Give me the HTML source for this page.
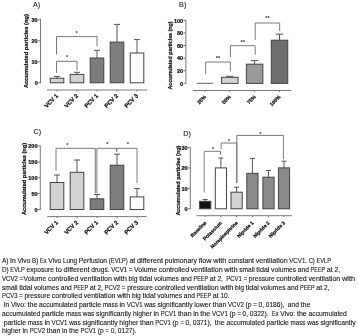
<!DOCTYPE html>
<html><head><meta charset="utf-8"><style>
html,body{margin:0;padding:0;background:#fff;}
svg{display:block;font-family:"Liberation Sans",sans-serif;filter:blur(0.35px);}
</style></head><body>
<svg width="358" height="336" viewBox="0 0 358 336">
<rect width="358" height="336" fill="#fff"/>
<text x="33.0" y="7.1" font-size="7.2" text-anchor="start" font-weight="normal" fill="#222" stroke="#222" stroke-width="0.1">A)</text>
<line x1="40.5" y1="18.7" x2="40.5" y2="83.3" stroke="#7a7a7a" stroke-width="1"/>
<line x1="38.0" y1="82.8" x2="40.5" y2="82.8" stroke="#7a7a7a" stroke-width="1"/>
<text x="37.7" y="85.0" font-size="5.5" text-anchor="end" font-weight="bold" fill="#111" stroke="#111" stroke-width="0.22">0</text>
<line x1="38.0" y1="61.8" x2="40.5" y2="61.8" stroke="#7a7a7a" stroke-width="1"/>
<text x="37.7" y="64.0" font-size="5.5" text-anchor="end" font-weight="bold" fill="#111" stroke="#111" stroke-width="0.22">10</text>
<line x1="38.0" y1="40.8" x2="40.5" y2="40.8" stroke="#7a7a7a" stroke-width="1"/>
<text x="37.7" y="43.0" font-size="5.5" text-anchor="end" font-weight="bold" fill="#111" stroke="#111" stroke-width="0.22">20</text>
<line x1="38.0" y1="19.799999999999997" x2="40.5" y2="19.799999999999997" stroke="#7a7a7a" stroke-width="1"/>
<text x="37.7" y="21.999999999999996" font-size="5.5" text-anchor="end" font-weight="bold" fill="#111" stroke="#111" stroke-width="0.22">30</text>
<text x="27.7" y="51" font-size="6" text-anchor="middle" font-weight="bold" fill="#111" transform="rotate(-90 27.7 51)" textLength="74" lengthAdjust="spacingAndGlyphs" stroke="#111" stroke-width="0.22">Accumulated particles (ng)</text>
<line x1="47" y1="90" x2="147.2" y2="90" stroke="#7a7a7a" stroke-width="1"/>
<line x1="57" y1="90" x2="57" y2="91.5" stroke="#7a7a7a" stroke-width="1"/>
<text x="58.5" y="96.3" font-size="5.8" text-anchor="end" font-weight="bold" fill="#111" transform="rotate(-45 58.5 96.3)" stroke="#111" stroke-width="0.22">VCV 1</text>
<line x1="77" y1="90" x2="77" y2="91.5" stroke="#7a7a7a" stroke-width="1"/>
<text x="78.5" y="96.3" font-size="5.8" text-anchor="end" font-weight="bold" fill="#111" transform="rotate(-45 78.5 96.3)" stroke="#111" stroke-width="0.22">VCV 2</text>
<line x1="97" y1="90" x2="97" y2="91.5" stroke="#7a7a7a" stroke-width="1"/>
<text x="98.5" y="96.3" font-size="5.8" text-anchor="end" font-weight="bold" fill="#111" transform="rotate(-45 98.5 96.3)" stroke="#111" stroke-width="0.22">PCV 1</text>
<line x1="117" y1="90" x2="117" y2="91.5" stroke="#7a7a7a" stroke-width="1"/>
<text x="118.5" y="96.3" font-size="5.8" text-anchor="end" font-weight="bold" fill="#111" transform="rotate(-45 118.5 96.3)" stroke="#111" stroke-width="0.22">PCV 2</text>
<line x1="137" y1="90" x2="137" y2="91.5" stroke="#7a7a7a" stroke-width="1"/>
<text x="138.5" y="96.3" font-size="5.8" text-anchor="end" font-weight="bold" fill="#111" transform="rotate(-45 138.5 96.3)" stroke="#111" stroke-width="0.22">PCV 3</text>
<line x1="57.0" y1="76.4" x2="57.0" y2="78.2" stroke="#555" stroke-width="1"/>
<line x1="54.0" y1="76.4" x2="60.0" y2="76.4" stroke="#555" stroke-width="1"/>
<rect x="50.2" y="78.2" width="13.599999999999994" height="4.599999999999994" fill="#d2d2d2" stroke="#444" stroke-width="1"/>
<line x1="77.0" y1="72.3" x2="77.0" y2="74.4" stroke="#555" stroke-width="1"/>
<line x1="74.0" y1="72.3" x2="80.0" y2="72.3" stroke="#555" stroke-width="1"/>
<rect x="70.2" y="74.4" width="13.599999999999994" height="8.399999999999991" fill="#d2d2d2" stroke="#444" stroke-width="1"/>
<line x1="97.0" y1="50.3" x2="97.0" y2="58" stroke="#555" stroke-width="1"/>
<line x1="94.0" y1="50.3" x2="100.0" y2="50.3" stroke="#555" stroke-width="1"/>
<rect x="90.2" y="58" width="13.599999999999994" height="24.799999999999997" fill="#7d7d7d" stroke="#444" stroke-width="1"/>
<line x1="117.0" y1="24.4" x2="117.0" y2="42.1" stroke="#555" stroke-width="1"/>
<line x1="114.0" y1="24.4" x2="120.0" y2="24.4" stroke="#555" stroke-width="1"/>
<rect x="110.2" y="42.1" width="13.599999999999994" height="40.699999999999996" fill="#7d7d7d" stroke="#444" stroke-width="1"/>
<line x1="137.0" y1="39.6" x2="137.0" y2="53" stroke="#555" stroke-width="1"/>
<line x1="134.0" y1="39.6" x2="140.0" y2="39.6" stroke="#555" stroke-width="1"/>
<rect x="130.2" y="53" width="13.600000000000023" height="29.799999999999997" fill="#fff" stroke="#444" stroke-width="1"/>
<polyline points="56.5,54.5 56.5,36.6 97,36.6 97,46.4" fill="none" stroke="#7a7a7a" stroke-width="1"/>
<text x="76.75" y="35.0" font-size="5.8" text-anchor="middle" font-weight="bold" fill="#333" stroke="none">*</text>
<polyline points="56.5,72.9 56.5,61.3 77,61.3 77,70.5" fill="none" stroke="#7a7a7a" stroke-width="1"/>
<text x="67.1" y="59.199999999999996" font-size="5.8" text-anchor="middle" font-weight="bold" fill="#333" stroke="none">*</text>
<text x="179.1" y="6.9" font-size="7.2" text-anchor="start" font-weight="normal" fill="#222" stroke="#222" stroke-width="0.1">B)</text>
<line x1="185.9" y1="19.8" x2="185.9" y2="83.9" stroke="#7a7a7a" stroke-width="1"/>
<line x1="183.4" y1="83.4" x2="185.9" y2="83.4" stroke="#7a7a7a" stroke-width="1"/>
<text x="183.1" y="85.60000000000001" font-size="5.5" text-anchor="end" font-weight="bold" fill="#111" stroke="#111" stroke-width="0.22">0</text>
<line x1="183.4" y1="70.78" x2="185.9" y2="70.78" stroke="#7a7a7a" stroke-width="1"/>
<text x="183.1" y="72.98" font-size="5.5" text-anchor="end" font-weight="bold" fill="#111" stroke="#111" stroke-width="0.22">20</text>
<line x1="183.4" y1="58.16" x2="185.9" y2="58.16" stroke="#7a7a7a" stroke-width="1"/>
<text x="183.1" y="60.36" font-size="5.5" text-anchor="end" font-weight="bold" fill="#111" stroke="#111" stroke-width="0.22">40</text>
<line x1="183.4" y1="45.54" x2="185.9" y2="45.54" stroke="#7a7a7a" stroke-width="1"/>
<text x="183.1" y="47.74" font-size="5.5" text-anchor="end" font-weight="bold" fill="#111" stroke="#111" stroke-width="0.22">60</text>
<line x1="183.4" y1="32.919999999999995" x2="185.9" y2="32.919999999999995" stroke="#7a7a7a" stroke-width="1"/>
<text x="183.1" y="35.12" font-size="5.5" text-anchor="end" font-weight="bold" fill="#111" stroke="#111" stroke-width="0.22">80</text>
<line x1="183.4" y1="20.299999999999997" x2="185.9" y2="20.299999999999997" stroke="#7a7a7a" stroke-width="1"/>
<text x="183.1" y="22.499999999999996" font-size="5.5" text-anchor="end" font-weight="bold" fill="#111" stroke="#111" stroke-width="0.22">100</text>
<text x="171.5" y="55.5" font-size="6" text-anchor="middle" font-weight="bold" fill="#111" transform="rotate(-90 171.5 55.5)" textLength="68" lengthAdjust="spacingAndGlyphs" stroke="#111" stroke-width="0.22">Accumulated particles (ng)</text>
<line x1="192.7" y1="90.5" x2="291.4" y2="90.5" stroke="#7a7a7a" stroke-width="1"/>
<line x1="205" y1="90.5" x2="205" y2="92.0" stroke="#7a7a7a" stroke-width="1"/>
<text x="206.5" y="97.3" font-size="5.1" text-anchor="end" font-weight="bold" fill="#111" transform="rotate(-45 206.5 97.3)" stroke="#111" stroke-width="0.22">25%</text>
<line x1="229.8" y1="90.5" x2="229.8" y2="92.0" stroke="#7a7a7a" stroke-width="1"/>
<text x="231.3" y="97.3" font-size="5.1" text-anchor="end" font-weight="bold" fill="#111" transform="rotate(-45 231.3 97.3)" stroke="#111" stroke-width="0.22">50%</text>
<line x1="254.6" y1="90.5" x2="254.6" y2="92.0" stroke="#7a7a7a" stroke-width="1"/>
<text x="256.1" y="97.3" font-size="5.1" text-anchor="end" font-weight="bold" fill="#111" transform="rotate(-45 256.1 97.3)" stroke="#111" stroke-width="0.22">75%</text>
<line x1="279.5" y1="90.5" x2="279.5" y2="92.0" stroke="#7a7a7a" stroke-width="1"/>
<text x="281.0" y="97.3" font-size="5.1" text-anchor="end" font-weight="bold" fill="#111" transform="rotate(-45 281.0 97.3)" stroke="#111" stroke-width="0.22">100%</text>
<line x1="196.75" y1="83.3" x2="213.25" y2="83.3" stroke="#555" stroke-width="0.9"/>
<line x1="229.8" y1="76.3" x2="229.8" y2="77.3" stroke="#555" stroke-width="1"/>
<line x1="226.05" y1="76.3" x2="233.55" y2="76.3" stroke="#555" stroke-width="1"/>
<rect x="221.55" y="77.3" width="16.5" height="6.1000000000000085" fill="#d2d2d2" stroke="#444" stroke-width="1"/>
<line x1="254.60000000000002" y1="60.6" x2="254.60000000000002" y2="64.2" stroke="#555" stroke-width="1"/>
<line x1="250.85000000000002" y1="60.6" x2="258.35" y2="60.6" stroke="#555" stroke-width="1"/>
<rect x="246.35" y="64.2" width="16.50000000000003" height="19.200000000000003" fill="#9a9a9a" stroke="#444" stroke-width="1"/>
<line x1="279.5" y1="34.2" x2="279.5" y2="40.2" stroke="#555" stroke-width="1"/>
<line x1="275.75" y1="34.2" x2="283.25" y2="34.2" stroke="#555" stroke-width="1"/>
<rect x="271.25" y="40.2" width="16.5" height="43.2" fill="#6e6e6e" stroke="#444" stroke-width="1"/>
<polyline points="205.7,74 205.7,62 230.4,62 230.4,71.5" fill="none" stroke="#7a7a7a" stroke-width="1"/>
<text x="218.05" y="60.4" font-size="5.8" text-anchor="middle" font-weight="bold" fill="#333" stroke="none">**</text>
<polyline points="230.4,57.2 230.4,45.7 255.2,45.7 255.2,54.6" fill="none" stroke="#7a7a7a" stroke-width="1"/>
<text x="242.8" y="44.1" font-size="5.8" text-anchor="middle" font-weight="bold" fill="#333" stroke="none">**</text>
<polyline points="255.2,39.8 255.2,23 279.7,23 279.7,31.1" fill="none" stroke="#7a7a7a" stroke-width="1"/>
<text x="267.6" y="20.2" font-size="5.8" text-anchor="middle" font-weight="bold" fill="#333" stroke="none">**</text>
<text x="33.6" y="134.3" font-size="7.2" text-anchor="start" font-weight="normal" fill="#222" stroke="#222" stroke-width="0.1">C)</text>
<line x1="40.3" y1="145.5" x2="40.3" y2="210.0" stroke="#7a7a7a" stroke-width="1"/>
<line x1="37.8" y1="209.5" x2="40.3" y2="209.5" stroke="#7a7a7a" stroke-width="1"/>
<text x="37.5" y="211.7" font-size="5.5" text-anchor="end" font-weight="bold" fill="#111" stroke="#111" stroke-width="0.22">0</text>
<line x1="37.8" y1="193.625" x2="40.3" y2="193.625" stroke="#7a7a7a" stroke-width="1"/>
<text x="37.5" y="195.825" font-size="5.5" text-anchor="end" font-weight="bold" fill="#111" stroke="#111" stroke-width="0.22">50</text>
<line x1="37.8" y1="177.75" x2="40.3" y2="177.75" stroke="#7a7a7a" stroke-width="1"/>
<text x="37.5" y="179.95" font-size="5.5" text-anchor="end" font-weight="bold" fill="#111" stroke="#111" stroke-width="0.22">100</text>
<line x1="37.8" y1="161.875" x2="40.3" y2="161.875" stroke="#7a7a7a" stroke-width="1"/>
<text x="37.5" y="164.075" font-size="5.5" text-anchor="end" font-weight="bold" fill="#111" stroke="#111" stroke-width="0.22">150</text>
<line x1="37.8" y1="146.0" x2="40.3" y2="146.0" stroke="#7a7a7a" stroke-width="1"/>
<text x="37.5" y="148.2" font-size="5.5" text-anchor="end" font-weight="bold" fill="#111" stroke="#111" stroke-width="0.22">200</text>
<text x="25.8" y="179" font-size="6" text-anchor="middle" font-weight="bold" fill="#111" transform="rotate(-90 25.8 179)" textLength="72" lengthAdjust="spacingAndGlyphs" stroke="#111" stroke-width="0.22">Accumulated particles (ng)</text>
<line x1="47.2" y1="216.6" x2="146.6" y2="216.6" stroke="#7a7a7a" stroke-width="1"/>
<line x1="57" y1="216.6" x2="57" y2="218.1" stroke="#7a7a7a" stroke-width="1"/>
<text x="58.5" y="222.9" font-size="5.8" text-anchor="end" font-weight="bold" fill="#111" transform="rotate(-45 58.5 222.9)" stroke="#111" stroke-width="0.22">VCV 1</text>
<line x1="77" y1="216.6" x2="77" y2="218.1" stroke="#7a7a7a" stroke-width="1"/>
<text x="78.5" y="222.9" font-size="5.8" text-anchor="end" font-weight="bold" fill="#111" transform="rotate(-45 78.5 222.9)" stroke="#111" stroke-width="0.22">VCV 2</text>
<line x1="97" y1="216.6" x2="97" y2="218.1" stroke="#7a7a7a" stroke-width="1"/>
<text x="98.5" y="222.9" font-size="5.8" text-anchor="end" font-weight="bold" fill="#111" transform="rotate(-45 98.5 222.9)" stroke="#111" stroke-width="0.22">PCV 1</text>
<line x1="117" y1="216.6" x2="117" y2="218.1" stroke="#7a7a7a" stroke-width="1"/>
<text x="118.5" y="222.9" font-size="5.8" text-anchor="end" font-weight="bold" fill="#111" transform="rotate(-45 118.5 222.9)" stroke="#111" stroke-width="0.22">PCV 2</text>
<line x1="137" y1="216.6" x2="137" y2="218.1" stroke="#7a7a7a" stroke-width="1"/>
<text x="138.5" y="222.9" font-size="5.8" text-anchor="end" font-weight="bold" fill="#111" transform="rotate(-45 138.5 222.9)" stroke="#111" stroke-width="0.22">PCV 3</text>
<line x1="57.0" y1="175" x2="57.0" y2="182.5" stroke="#555" stroke-width="1"/>
<line x1="54.0" y1="175" x2="60.0" y2="175" stroke="#555" stroke-width="1"/>
<rect x="50.2" y="182.5" width="13.599999999999994" height="27.0" fill="#d2d2d2" stroke="#444" stroke-width="1"/>
<line x1="77.0" y1="160" x2="77.0" y2="172.3" stroke="#555" stroke-width="1"/>
<line x1="74.0" y1="160" x2="80.0" y2="160" stroke="#555" stroke-width="1"/>
<rect x="70.2" y="172.3" width="13.599999999999994" height="37.19999999999999" fill="#d2d2d2" stroke="#444" stroke-width="1"/>
<line x1="97.0" y1="194.5" x2="97.0" y2="198.8" stroke="#555" stroke-width="1"/>
<line x1="94.0" y1="194.5" x2="100.0" y2="194.5" stroke="#555" stroke-width="1"/>
<rect x="90.2" y="198.8" width="13.599999999999994" height="10.699999999999989" fill="#7d7d7d" stroke="#444" stroke-width="1"/>
<line x1="117.0" y1="154.1" x2="117.0" y2="165.2" stroke="#555" stroke-width="1"/>
<line x1="114.0" y1="154.1" x2="120.0" y2="154.1" stroke="#555" stroke-width="1"/>
<rect x="110.2" y="165.2" width="13.599999999999994" height="44.30000000000001" fill="#7d7d7d" stroke="#444" stroke-width="1"/>
<line x1="137.0" y1="188.6" x2="137.0" y2="196.9" stroke="#555" stroke-width="1"/>
<line x1="134.0" y1="188.6" x2="140.0" y2="188.6" stroke="#555" stroke-width="1"/>
<rect x="130.2" y="196.9" width="13.600000000000023" height="12.599999999999994" fill="#fff" stroke="#444" stroke-width="1"/>
<polyline points="56,170.6 56,148.3 95.3,148.3 95.3,193.3" fill="none" stroke="#7a7a7a" stroke-width="1"/>
<text x="67.5" y="147.4" font-size="5.8" text-anchor="middle" font-weight="bold" fill="#333" stroke="none">*</text>
<polyline points="96.9,193.3 96.9,148.3 116.7,148.3 116.7,151.7" fill="none" stroke="#7a7a7a" stroke-width="1"/>
<text x="107.5" y="146.4" font-size="5.8" text-anchor="middle" font-weight="bold" fill="#333" stroke="none">*</text>
<polyline points="116.7,151.7 116.7,148.3 137.0,148.3 137.0,183" fill="none" stroke="#7a7a7a" stroke-width="1"/>
<text x="128" y="146.4" font-size="5.8" text-anchor="middle" font-weight="bold" fill="#333" stroke="none">*</text>
<text x="183.2" y="136.3" font-size="7.2" text-anchor="start" font-weight="normal" fill="#222" stroke="#222" stroke-width="0.1">D)</text>
<line x1="190.3" y1="147.3" x2="190.3" y2="209.3" stroke="#7a7a7a" stroke-width="1"/>
<line x1="187.8" y1="208.8" x2="190.3" y2="208.8" stroke="#7a7a7a" stroke-width="1"/>
<text x="187.5" y="211.0" font-size="5.5" text-anchor="end" font-weight="bold" fill="#111" stroke="#111" stroke-width="0.22">0</text>
<line x1="187.8" y1="188.33333333333334" x2="190.3" y2="188.33333333333334" stroke="#7a7a7a" stroke-width="1"/>
<text x="187.5" y="190.53333333333333" font-size="5.5" text-anchor="end" font-weight="bold" fill="#111" stroke="#111" stroke-width="0.22">10</text>
<line x1="187.8" y1="167.86666666666667" x2="190.3" y2="167.86666666666667" stroke="#7a7a7a" stroke-width="1"/>
<text x="187.5" y="170.06666666666666" font-size="5.5" text-anchor="end" font-weight="bold" fill="#111" stroke="#111" stroke-width="0.22">20</text>
<line x1="187.8" y1="147.40000000000003" x2="190.3" y2="147.40000000000003" stroke="#7a7a7a" stroke-width="1"/>
<text x="187.5" y="149.60000000000002" font-size="5.5" text-anchor="end" font-weight="bold" fill="#111" stroke="#111" stroke-width="0.22">30</text>
<text x="180" y="180.6" font-size="6" text-anchor="middle" font-weight="bold" fill="#111" transform="rotate(-90 180 180.6)" textLength="70" lengthAdjust="spacingAndGlyphs" stroke="#111" stroke-width="0.22">Accumulated particles (ng)</text>
<line x1="196.5" y1="215.7" x2="292" y2="215.7" stroke="#7a7a7a" stroke-width="1"/>
<line x1="205.2" y1="215.7" x2="205.2" y2="217.2" stroke="#7a7a7a" stroke-width="1"/>
<text x="206.7" y="223.29999999999998" font-size="4.9" text-anchor="end" font-weight="bold" fill="#111" transform="rotate(-45 206.7 223.29999999999998)" stroke="#111" stroke-width="0.22">Baseline</text>
<line x1="220.9" y1="215.7" x2="220.9" y2="217.2" stroke="#7a7a7a" stroke-width="1"/>
<text x="222.4" y="223.29999999999998" font-size="4.9" text-anchor="end" font-weight="bold" fill="#111" transform="rotate(-45 222.4 223.29999999999998)" stroke="#111" stroke-width="0.22">Potassium</text>
<line x1="236.6" y1="215.7" x2="236.6" y2="217.2" stroke="#7a7a7a" stroke-width="1"/>
<text x="238.1" y="223.29999999999998" font-size="4.9" text-anchor="end" font-weight="bold" fill="#111" transform="rotate(-45 238.1 223.29999999999998)" stroke="#111" stroke-width="0.22">Norepinephrine</text>
<line x1="252.4" y1="215.7" x2="252.4" y2="217.2" stroke="#7a7a7a" stroke-width="1"/>
<text x="253.9" y="223.29999999999998" font-size="4.9" text-anchor="end" font-weight="bold" fill="#111" transform="rotate(-45 253.9 223.29999999999998)" stroke="#111" stroke-width="0.22">Nipride 1</text>
<line x1="268.5" y1="215.7" x2="268.5" y2="217.2" stroke="#7a7a7a" stroke-width="1"/>
<text x="270.0" y="223.29999999999998" font-size="4.9" text-anchor="end" font-weight="bold" fill="#111" transform="rotate(-45 270.0 223.29999999999998)" stroke="#111" stroke-width="0.22">Nipride 2</text>
<line x1="284" y1="215.7" x2="284" y2="217.2" stroke="#7a7a7a" stroke-width="1"/>
<text x="285.5" y="223.29999999999998" font-size="4.9" text-anchor="end" font-weight="bold" fill="#111" transform="rotate(-45 285.5 223.29999999999998)" stroke="#111" stroke-width="0.22">Nipride 3</text>
<line x1="205.2" y1="199.5" x2="205.2" y2="201.3" stroke="#555" stroke-width="1"/>
<line x1="202.7" y1="199.5" x2="207.7" y2="199.5" stroke="#555" stroke-width="1"/>
<rect x="199.6" y="201.3" width="11.199999999999989" height="7.5" fill="#111" stroke="#444" stroke-width="1"/>
<line x1="220.9" y1="158" x2="220.9" y2="167.9" stroke="#555" stroke-width="1"/>
<line x1="218.4" y1="158" x2="223.4" y2="158" stroke="#555" stroke-width="1"/>
<rect x="215.3" y="167.9" width="11.199999999999989" height="40.900000000000006" fill="#fff" stroke="#444" stroke-width="1"/>
<line x1="236.6" y1="187.2" x2="236.6" y2="192.2" stroke="#555" stroke-width="1"/>
<line x1="234.1" y1="187.2" x2="239.1" y2="187.2" stroke="#555" stroke-width="1"/>
<rect x="231.0" y="192.2" width="11.199999999999989" height="16.600000000000023" fill="#d2d2d2" stroke="#444" stroke-width="1"/>
<line x1="252.4" y1="158.4" x2="252.4" y2="173.3" stroke="#555" stroke-width="1"/>
<line x1="249.9" y1="158.4" x2="254.9" y2="158.4" stroke="#555" stroke-width="1"/>
<rect x="246.8" y="173.3" width="11.199999999999989" height="35.5" fill="#8a8a8a" stroke="#444" stroke-width="1"/>
<line x1="268.5" y1="170.5" x2="268.5" y2="177.2" stroke="#555" stroke-width="1"/>
<line x1="266.0" y1="170.5" x2="271.0" y2="170.5" stroke="#555" stroke-width="1"/>
<rect x="262.9" y="177.2" width="11.200000000000045" height="31.600000000000023" fill="#8a8a8a" stroke="#444" stroke-width="1"/>
<line x1="284.0" y1="161.2" x2="284.0" y2="167.9" stroke="#555" stroke-width="1"/>
<line x1="281.5" y1="161.2" x2="286.5" y2="161.2" stroke="#555" stroke-width="1"/>
<rect x="278.4" y="167.9" width="11.200000000000045" height="40.900000000000006" fill="#8a8a8a" stroke="#444" stroke-width="1"/>
<polyline points="204.2,192.3 204.2,151.3 220.5,151.3 220.5,154.8" fill="none" stroke="#7a7a7a" stroke-width="1"/>
<text x="213.2" y="151.4" font-size="5.8" text-anchor="middle" font-weight="bold" fill="#333" stroke="none">*</text>
<polyline points="221.1,149.4 221.1,143 236.8,143 236.8,183" fill="none" stroke="#7a7a7a" stroke-width="1"/>
<text x="228.9" y="142.6" font-size="5.8" text-anchor="middle" font-weight="bold" fill="#333" stroke="none">*</text>
<polyline points="236.8,183 236.8,135.4 283.4,135.4 283.4,159.3" fill="none" stroke="#7a7a7a" stroke-width="1"/>
<text x="260.3" y="136.4" font-size="5.8" text-anchor="middle" font-weight="bold" fill="#333" stroke="none">*</text>
<g fill="#1a1a1a" stroke="#1a1a1a" stroke-width="0.12">
<text x="2.00" y="263.30" font-size="7.0" textLength="6.45" lengthAdjust="spacingAndGlyphs">A)</text>
<text x="10.10" y="263.30" font-size="7.0" textLength="5.68" lengthAdjust="spacingAndGlyphs">In</text>
<text x="17.44" y="263.30" font-size="7.0" textLength="12.99" lengthAdjust="spacingAndGlyphs">Vivo</text>
<text x="32.08" y="263.30" font-size="7.0" textLength="6.19" lengthAdjust="spacingAndGlyphs">B)</text>
<text x="39.93" y="263.30" font-size="7.0" textLength="6.74" lengthAdjust="spacingAndGlyphs">Ex</text>
<text x="48.32" y="263.30" font-size="7.0" textLength="12.99" lengthAdjust="spacingAndGlyphs">Vivo</text>
<text x="62.96" y="263.30" font-size="7.0" textLength="14.20" lengthAdjust="spacingAndGlyphs">Lung</text>
<text x="78.81" y="263.30" font-size="7.0" textLength="28.28" lengthAdjust="spacingAndGlyphs">Perfusion</text>
<text x="108.74" y="263.30" font-size="7.0" textLength="19.01" lengthAdjust="spacingAndGlyphs">(EVLP)</text>
<text x="129.40" y="263.30" font-size="7.0" textLength="5.94" lengthAdjust="spacingAndGlyphs">at</text>
<text x="136.99" y="263.30" font-size="7.0" textLength="26.10" lengthAdjust="spacingAndGlyphs">different</text>
<text x="164.75" y="263.30" font-size="7.0" textLength="32.26" lengthAdjust="spacingAndGlyphs">pulmonary</text>
<text x="198.66" y="263.30" font-size="7.0" textLength="12.99" lengthAdjust="spacingAndGlyphs">flow</text>
<text x="213.30" y="263.30" font-size="7.0" textLength="13.20" lengthAdjust="spacingAndGlyphs">with</text>
<text x="228.15" y="263.30" font-size="7.0" textLength="25.89" lengthAdjust="spacingAndGlyphs">constant</text>
<text x="255.69" y="263.30" font-size="7.0" textLength="31.91" lengthAdjust="spacingAndGlyphs">ventilation</text>
<text x="289.26" y="263.30" font-size="7.0" textLength="17.75" lengthAdjust="spacingAndGlyphs">VCV1.</text>
<text x="308.66" y="263.30" font-size="7.0" textLength="6.12" lengthAdjust="spacingAndGlyphs">C)</text>
<text x="316.43" y="263.30" font-size="7.0" textLength="14.57" lengthAdjust="spacingAndGlyphs">EVLP</text>
<text x="2.00" y="272.00" font-size="7.0" textLength="6.71" lengthAdjust="spacingAndGlyphs">D)</text>
<text x="10.36" y="272.00" font-size="7.0" textLength="14.55" lengthAdjust="spacingAndGlyphs">EVLP</text>
<text x="26.56" y="272.00" font-size="7.0" textLength="27.35" lengthAdjust="spacingAndGlyphs">exposure</text>
<text x="55.56" y="272.00" font-size="7.0" textLength="6.30" lengthAdjust="spacingAndGlyphs">to</text>
<text x="63.51" y="272.00" font-size="7.0" textLength="26.06" lengthAdjust="spacingAndGlyphs">different</text>
<text x="91.22" y="272.00" font-size="7.0" textLength="18.35" lengthAdjust="spacingAndGlyphs">drugs.</text>
<text x="111.23" y="272.00" font-size="7.0" textLength="15.88" lengthAdjust="spacingAndGlyphs">VCV1</text>
<text x="128.76" y="272.00" font-size="7.0" textLength="3.70" lengthAdjust="spacingAndGlyphs">=</text>
<text x="134.11" y="272.00" font-size="7.0" textLength="22.97" lengthAdjust="spacingAndGlyphs">Volume</text>
<text x="158.73" y="272.00" font-size="7.0" textLength="30.44" lengthAdjust="spacingAndGlyphs">controlled</text>
<text x="190.82" y="272.00" font-size="7.0" textLength="31.86" lengthAdjust="spacingAndGlyphs">ventilation</text>
<text x="224.33" y="272.00" font-size="7.0" textLength="13.18" lengthAdjust="spacingAndGlyphs">with</text>
<text x="239.16" y="272.00" font-size="7.0" textLength="15.53" lengthAdjust="spacingAndGlyphs">small</text>
<text x="256.34" y="272.00" font-size="7.0" textLength="13.12" lengthAdjust="spacingAndGlyphs">tidal</text>
<text x="271.12" y="272.00" font-size="7.0" textLength="24.98" lengthAdjust="spacingAndGlyphs">volumes</text>
<text x="297.75" y="272.00" font-size="7.0" textLength="11.16" lengthAdjust="spacingAndGlyphs">and</text>
<text x="310.56" y="272.00" font-size="7.0" textLength="14.67" lengthAdjust="spacingAndGlyphs">PEEP</text>
<text x="326.89" y="272.00" font-size="7.0" textLength="5.94" lengthAdjust="spacingAndGlyphs">at</text>
<text x="334.48" y="272.00" font-size="7.0" textLength="5.52" lengthAdjust="spacingAndGlyphs">2,</text>
<text x="2.00" y="280.70" font-size="7.0" textLength="15.91" lengthAdjust="spacingAndGlyphs">VCV2</text>
<text x="19.56" y="280.70" font-size="7.0" textLength="26.72" lengthAdjust="spacingAndGlyphs">=Volume</text>
<text x="47.94" y="280.70" font-size="7.0" textLength="30.50" lengthAdjust="spacingAndGlyphs">controlled</text>
<text x="80.09" y="280.70" font-size="7.0" textLength="31.92" lengthAdjust="spacingAndGlyphs">ventilation</text>
<text x="113.67" y="280.70" font-size="7.0" textLength="13.20" lengthAdjust="spacingAndGlyphs">with</text>
<text x="128.53" y="280.70" font-size="7.0" textLength="8.97" lengthAdjust="spacingAndGlyphs">big</text>
<text x="139.15" y="280.70" font-size="7.0" textLength="13.15" lengthAdjust="spacingAndGlyphs">tidal</text>
<text x="153.95" y="280.70" font-size="7.0" textLength="25.03" lengthAdjust="spacingAndGlyphs">volumes</text>
<text x="180.63" y="280.70" font-size="7.0" textLength="11.18" lengthAdjust="spacingAndGlyphs">and</text>
<text x="193.47" y="280.70" font-size="7.0" textLength="14.70" lengthAdjust="spacingAndGlyphs">PEEP</text>
<text x="209.83" y="280.70" font-size="7.0" textLength="5.95" lengthAdjust="spacingAndGlyphs">at</text>
<text x="217.43" y="280.70" font-size="7.0" textLength="5.53" lengthAdjust="spacingAndGlyphs">2,</text>
<text x="226.27" y="280.70" font-size="7.0" textLength="15.54" lengthAdjust="spacingAndGlyphs">PCV1</text>
<text x="243.46" y="280.70" font-size="7.0" textLength="3.71" lengthAdjust="spacingAndGlyphs">=</text>
<text x="248.82" y="280.70" font-size="7.0" textLength="25.79" lengthAdjust="spacingAndGlyphs">pressure</text>
<text x="276.27" y="280.70" font-size="7.0" textLength="30.50" lengthAdjust="spacingAndGlyphs">controlled</text>
<text x="308.42" y="280.70" font-size="7.0" textLength="31.92" lengthAdjust="spacingAndGlyphs">ventilation</text>
<text x="342.00" y="280.70" font-size="7.0" textLength="13.20" lengthAdjust="spacingAndGlyphs">with</text>
<text x="2.00" y="289.50" font-size="7.0" textLength="15.55" lengthAdjust="spacingAndGlyphs">small</text>
<text x="19.20" y="289.50" font-size="7.0" textLength="13.14" lengthAdjust="spacingAndGlyphs">tidal</text>
<text x="34.00" y="289.50" font-size="7.0" textLength="25.01" lengthAdjust="spacingAndGlyphs">volumes</text>
<text x="60.66" y="289.50" font-size="7.0" textLength="11.18" lengthAdjust="spacingAndGlyphs">and</text>
<text x="73.49" y="289.50" font-size="7.0" textLength="14.69" lengthAdjust="spacingAndGlyphs">PEEP</text>
<text x="89.84" y="289.50" font-size="7.0" textLength="5.94" lengthAdjust="spacingAndGlyphs">at</text>
<text x="97.44" y="289.50" font-size="7.0" textLength="5.53" lengthAdjust="spacingAndGlyphs">2,</text>
<text x="104.62" y="289.50" font-size="7.0" textLength="15.53" lengthAdjust="spacingAndGlyphs">PCV2</text>
<text x="121.80" y="289.50" font-size="7.0" textLength="3.71" lengthAdjust="spacingAndGlyphs">=</text>
<text x="127.16" y="289.50" font-size="7.0" textLength="25.77" lengthAdjust="spacingAndGlyphs">pressure</text>
<text x="154.59" y="289.50" font-size="7.0" textLength="30.48" lengthAdjust="spacingAndGlyphs">controlled</text>
<text x="186.72" y="289.50" font-size="7.0" textLength="31.90" lengthAdjust="spacingAndGlyphs">ventilation</text>
<text x="220.28" y="289.50" font-size="7.0" textLength="13.19" lengthAdjust="spacingAndGlyphs">with</text>
<text x="235.12" y="289.50" font-size="7.0" textLength="8.96" lengthAdjust="spacingAndGlyphs">big</text>
<text x="245.74" y="289.50" font-size="7.0" textLength="13.14" lengthAdjust="spacingAndGlyphs">tidal</text>
<text x="260.53" y="289.50" font-size="7.0" textLength="25.01" lengthAdjust="spacingAndGlyphs">volumes</text>
<text x="287.20" y="289.50" font-size="7.0" textLength="11.18" lengthAdjust="spacingAndGlyphs">and</text>
<text x="300.03" y="289.50" font-size="7.0" textLength="14.69" lengthAdjust="spacingAndGlyphs">PEEP</text>
<text x="316.37" y="289.50" font-size="7.0" textLength="5.94" lengthAdjust="spacingAndGlyphs">at</text>
<text x="323.97" y="289.50" font-size="7.0" textLength="5.53" lengthAdjust="spacingAndGlyphs">2,</text>
<text x="2.00" y="298.20" font-size="7.0" textLength="15.46" lengthAdjust="spacingAndGlyphs">PCV3</text>
<text x="19.11" y="298.20" font-size="7.0" textLength="3.69" lengthAdjust="spacingAndGlyphs">=</text>
<text x="24.44" y="298.20" font-size="7.0" textLength="25.66" lengthAdjust="spacingAndGlyphs">pressure</text>
<text x="51.75" y="298.20" font-size="7.0" textLength="30.34" lengthAdjust="spacingAndGlyphs">controlled</text>
<text x="83.74" y="298.20" font-size="7.0" textLength="31.76" lengthAdjust="spacingAndGlyphs">ventilation</text>
<text x="117.15" y="298.20" font-size="7.0" textLength="13.14" lengthAdjust="spacingAndGlyphs">with</text>
<text x="131.93" y="298.20" font-size="7.0" textLength="8.92" lengthAdjust="spacingAndGlyphs">big</text>
<text x="142.49" y="298.20" font-size="7.0" textLength="13.08" lengthAdjust="spacingAndGlyphs">tidal</text>
<text x="157.22" y="298.20" font-size="7.0" textLength="24.90" lengthAdjust="spacingAndGlyphs">volumes</text>
<text x="183.77" y="298.20" font-size="7.0" textLength="11.13" lengthAdjust="spacingAndGlyphs">and</text>
<text x="196.55" y="298.20" font-size="7.0" textLength="14.63" lengthAdjust="spacingAndGlyphs">PEEP</text>
<text x="212.82" y="298.20" font-size="7.0" textLength="5.92" lengthAdjust="spacingAndGlyphs">at</text>
<text x="220.38" y="298.20" font-size="7.0" textLength="9.22" lengthAdjust="spacingAndGlyphs">10.</text>
<text x="3.65" y="306.90" font-size="7.0" textLength="5.67" lengthAdjust="spacingAndGlyphs">In</text>
<text x="10.96" y="306.90" font-size="7.0" textLength="14.90" lengthAdjust="spacingAndGlyphs">Vivo:</text>
<text x="27.51" y="306.90" font-size="7.0" textLength="9.90" lengthAdjust="spacingAndGlyphs">the</text>
<text x="39.06" y="306.90" font-size="7.0" textLength="38.19" lengthAdjust="spacingAndGlyphs">accumulated</text>
<text x="78.90" y="306.90" font-size="7.0" textLength="22.35" lengthAdjust="spacingAndGlyphs">particle</text>
<text x="102.90" y="306.90" font-size="7.0" textLength="15.01" lengthAdjust="spacingAndGlyphs">mass</text>
<text x="119.56" y="306.90" font-size="7.0" textLength="5.50" lengthAdjust="spacingAndGlyphs">in</text>
<text x="126.71" y="306.90" font-size="7.0" textLength="15.85" lengthAdjust="spacingAndGlyphs">VCV1</text>
<text x="144.21" y="306.90" font-size="7.0" textLength="11.55" lengthAdjust="spacingAndGlyphs">was</text>
<text x="157.41" y="306.90" font-size="7.0" textLength="35.17" lengthAdjust="spacingAndGlyphs">significantly</text>
<text x="194.22" y="306.90" font-size="7.0" textLength="16.90" lengthAdjust="spacingAndGlyphs">lower</text>
<text x="212.77" y="306.90" font-size="7.0" textLength="13.59" lengthAdjust="spacingAndGlyphs">than</text>
<text x="228.01" y="306.90" font-size="7.0" textLength="15.85" lengthAdjust="spacingAndGlyphs">VCV2</text>
<text x="245.51" y="306.90" font-size="7.0" textLength="6.04" lengthAdjust="spacingAndGlyphs">(p</text>
<text x="253.20" y="306.90" font-size="7.0" textLength="3.69" lengthAdjust="spacingAndGlyphs">=</text>
<text x="258.54" y="306.90" font-size="7.0" textLength="5.51" lengthAdjust="spacingAndGlyphs">0,</text>
<text x="265.70" y="306.90" font-size="7.0" textLength="18.81" lengthAdjust="spacingAndGlyphs">0186),</text>
<text x="287.81" y="306.90" font-size="7.0" textLength="11.15" lengthAdjust="spacingAndGlyphs">and</text>
<text x="300.60" y="306.90" font-size="7.0" textLength="9.90" lengthAdjust="spacingAndGlyphs">the</text>
<text x="2.00" y="316.10" font-size="7.0" textLength="38.30" lengthAdjust="spacingAndGlyphs">accumulated</text>
<text x="41.96" y="316.10" font-size="7.0" textLength="22.42" lengthAdjust="spacingAndGlyphs">particle</text>
<text x="66.03" y="316.10" font-size="7.0" textLength="15.06" lengthAdjust="spacingAndGlyphs">mass</text>
<text x="82.74" y="316.10" font-size="7.0" textLength="11.58" lengthAdjust="spacingAndGlyphs">was</text>
<text x="95.97" y="316.10" font-size="7.0" textLength="35.27" lengthAdjust="spacingAndGlyphs">significantly</text>
<text x="132.90" y="316.10" font-size="7.0" textLength="18.99" lengthAdjust="spacingAndGlyphs">higher</text>
<text x="153.54" y="316.10" font-size="7.0" textLength="5.52" lengthAdjust="spacingAndGlyphs">in</text>
<text x="160.71" y="316.10" font-size="7.0" textLength="15.53" lengthAdjust="spacingAndGlyphs">PCV1</text>
<text x="177.90" y="316.10" font-size="7.0" textLength="13.63" lengthAdjust="spacingAndGlyphs">than</text>
<text x="193.18" y="316.10" font-size="7.0" textLength="5.52" lengthAdjust="spacingAndGlyphs">in</text>
<text x="200.35" y="316.10" font-size="7.0" textLength="9.93" lengthAdjust="spacingAndGlyphs">the</text>
<text x="211.93" y="316.10" font-size="7.0" textLength="15.90" lengthAdjust="spacingAndGlyphs">VCV1</text>
<text x="229.49" y="316.10" font-size="7.0" textLength="6.06" lengthAdjust="spacingAndGlyphs">(p</text>
<text x="237.20" y="316.10" font-size="7.0" textLength="3.71" lengthAdjust="spacingAndGlyphs">=</text>
<text x="242.56" y="316.10" font-size="7.0" textLength="5.53" lengthAdjust="spacingAndGlyphs">0,</text>
<text x="249.74" y="316.10" font-size="7.0" textLength="18.89" lengthAdjust="spacingAndGlyphs">0322).</text>
<text x="271.93" y="316.10" font-size="7.0" textLength="6.74" lengthAdjust="spacingAndGlyphs">Ex</text>
<text x="280.32" y="316.10" font-size="7.0" textLength="14.94" lengthAdjust="spacingAndGlyphs">Vivo:</text>
<text x="296.91" y="316.10" font-size="7.0" textLength="9.93" lengthAdjust="spacingAndGlyphs">the</text>
<text x="308.50" y="316.10" font-size="7.0" textLength="38.30" lengthAdjust="spacingAndGlyphs">accumulated</text>
<text x="3.65" y="324.50" font-size="7.0" textLength="22.42" lengthAdjust="spacingAndGlyphs">particle</text>
<text x="27.73" y="324.50" font-size="7.0" textLength="15.06" lengthAdjust="spacingAndGlyphs">mass</text>
<text x="44.44" y="324.50" font-size="7.0" textLength="5.52" lengthAdjust="spacingAndGlyphs">in</text>
<text x="51.61" y="324.50" font-size="7.0" textLength="15.90" lengthAdjust="spacingAndGlyphs">VCV1</text>
<text x="69.17" y="324.50" font-size="7.0" textLength="11.58" lengthAdjust="spacingAndGlyphs">was</text>
<text x="82.40" y="324.50" font-size="7.0" textLength="35.28" lengthAdjust="spacingAndGlyphs">significantly</text>
<text x="119.33" y="324.50" font-size="7.0" textLength="18.99" lengthAdjust="spacingAndGlyphs">higher</text>
<text x="139.97" y="324.50" font-size="7.0" textLength="13.63" lengthAdjust="spacingAndGlyphs">than</text>
<text x="155.25" y="324.50" font-size="7.0" textLength="15.53" lengthAdjust="spacingAndGlyphs">PCV1</text>
<text x="172.44" y="324.50" font-size="7.0" textLength="6.06" lengthAdjust="spacingAndGlyphs">(p</text>
<text x="180.15" y="324.50" font-size="7.0" textLength="3.71" lengthAdjust="spacingAndGlyphs">=</text>
<text x="185.51" y="324.50" font-size="7.0" textLength="5.53" lengthAdjust="spacingAndGlyphs">0,</text>
<text x="192.69" y="324.50" font-size="7.0" textLength="18.87" lengthAdjust="spacingAndGlyphs">0371),</text>
<text x="214.86" y="324.50" font-size="7.0" textLength="9.93" lengthAdjust="spacingAndGlyphs">the</text>
<text x="226.45" y="324.50" font-size="7.0" textLength="38.31" lengthAdjust="spacingAndGlyphs">accumulated</text>
<text x="266.41" y="324.50" font-size="7.0" textLength="22.42" lengthAdjust="spacingAndGlyphs">particle</text>
<text x="290.48" y="324.50" font-size="7.0" textLength="15.06" lengthAdjust="spacingAndGlyphs">mass</text>
<text x="307.19" y="324.50" font-size="7.0" textLength="11.58" lengthAdjust="spacingAndGlyphs">was</text>
<text x="320.42" y="324.50" font-size="7.0" textLength="35.28" lengthAdjust="spacingAndGlyphs">significantly</text>
<text x="2.00" y="333.00" font-size="7.0" textLength="18.88" lengthAdjust="spacingAndGlyphs">higher</text>
<text x="22.53" y="333.00" font-size="7.0" textLength="5.49" lengthAdjust="spacingAndGlyphs">in</text>
<text x="29.66" y="333.00" font-size="7.0" textLength="15.44" lengthAdjust="spacingAndGlyphs">PCV2</text>
<text x="46.75" y="333.00" font-size="7.0" textLength="13.55" lengthAdjust="spacingAndGlyphs">than</text>
<text x="61.94" y="333.00" font-size="7.0" textLength="5.49" lengthAdjust="spacingAndGlyphs">in</text>
<text x="69.07" y="333.00" font-size="7.0" textLength="9.87" lengthAdjust="spacingAndGlyphs">the</text>
<text x="80.59" y="333.00" font-size="7.0" textLength="15.44" lengthAdjust="spacingAndGlyphs">PCV1</text>
<text x="97.68" y="333.00" font-size="7.0" textLength="6.02" lengthAdjust="spacingAndGlyphs">(p</text>
<text x="105.35" y="333.00" font-size="7.0" textLength="3.69" lengthAdjust="spacingAndGlyphs">=</text>
<text x="110.68" y="333.00" font-size="7.0" textLength="5.50" lengthAdjust="spacingAndGlyphs">0,</text>
<text x="117.82" y="333.00" font-size="7.0" textLength="18.78" lengthAdjust="spacingAndGlyphs">0127).</text>
</g>
</svg>
</body></html>
